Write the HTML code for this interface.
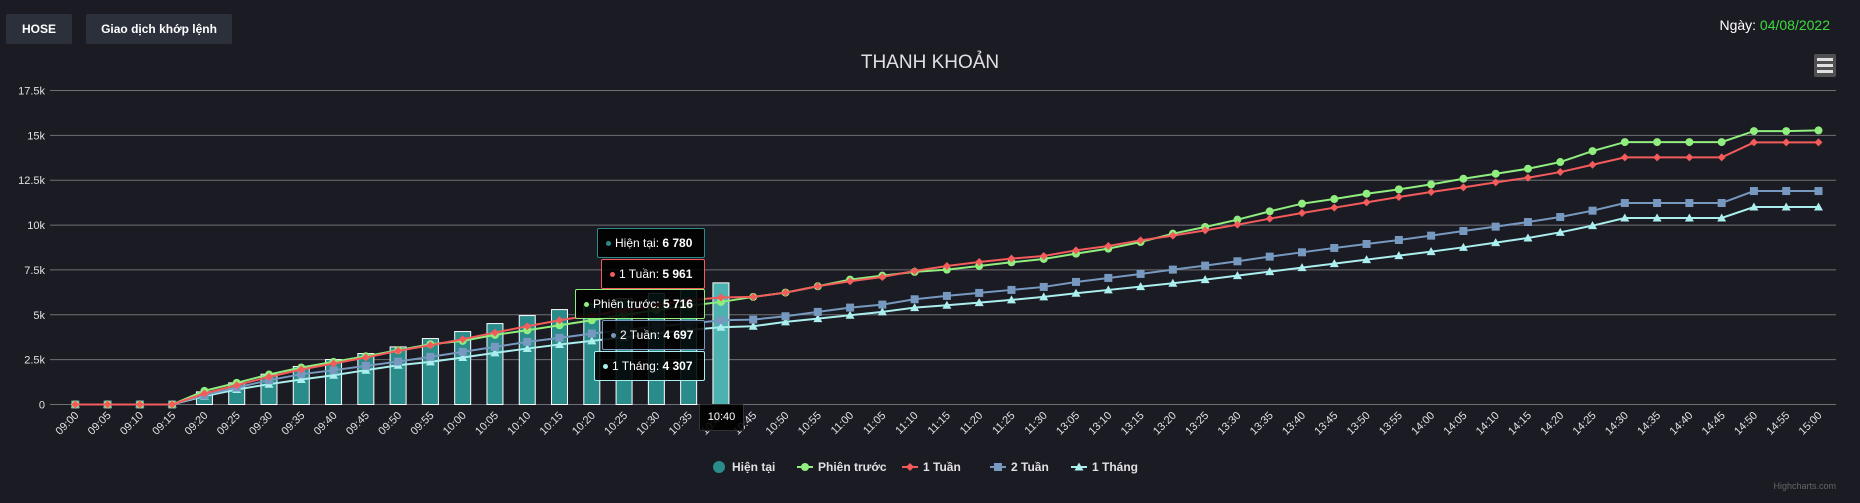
<!DOCTYPE html>
<html><head><meta charset="utf-8">
<style>
body{margin:0;background:#1b1b24;width:1860px;height:503px;overflow:hidden;font-family:"Liberation Sans","Noto Sans CJK SC",sans-serif;}
.btn{position:absolute;top:14px;height:30px;background:#2b303b;color:#fff;font-size:12px;font-weight:bold;line-height:30px;text-align:center;border-radius:2px;}
.tt{position:absolute;background:rgba(0,0,0,0.88);color:#fff;font-size:12px;line-height:28px;padding:0 8px;border:1px solid;border-radius:2px;white-space:nowrap;box-sizing:border-box;height:30px}
.tt b{font-weight:bold}
.dot{display:inline-block;width:5px;height:5px;border-radius:50%;margin-right:4px;vertical-align:middle}
</style></head><body>
<div class="btn" style="left:6px;width:66px">HOSE</div>
<div class="btn" style="left:86px;width:146px">Giao dịch khớp lệnh</div>
<div style="position:absolute;right:30px;top:17px;color:#fff;font-size:14px">Ngày: <span style="color:#3ddc3d">04/08/2022</span></div>
<svg id="chart" width="1860" height="503" style="position:absolute;left:0;top:0"></svg>
<div class="tt" style="left:597px;top:228px;width:108px;border-color:#2a8c8a"><span class="dot" style="background:#2a8c8a"></span>Hiện tại: <b>6 780</b></div>
<div class="tt" style="left:601px;top:259px;width:104px;border-color:#f45b5b"><span class="dot" style="background:#f45b5b"></span>1 Tuần: <b>5 961</b></div>
<div class="tt" style="left:575px;top:289px;width:130px;border-color:#90ee7e"><span class="dot" style="background:#90ee7e"></span>Phiên trước: <b>5 716</b></div>
<div class="tt" style="left:602px;top:320px;width:103px;border-color:#7798bf"><span class="dot" style="background:#7798bf"></span>2 Tuần: <b>4 697</b></div>
<div class="tt" style="left:594px;top:351px;width:111px;border-color:#aaeeee"><span class="dot" style="background:#aaeeee"></span>1 Tháng: <b>4 307</b></div>
<div class="tt" style="left:699px;top:404px;width:45px;height:27px;line-height:25px;border-color:#333;padding:0;text-align:center;font-size:11px">10:40</div>
<script>
const categories=["09:00","09:05","09:10","09:15","09:20","09:25","09:30","09:35","09:40","09:45","09:50","09:55","10:00","10:05","10:10","10:15","10:20","10:25","10:30","10:35","10:40","10:45","10:50","10:55","11:00","11:05","11:10","11:15","11:20","11:25","11:30","13:05","13:10","13:15","13:20","13:25","13:30","13:35","13:40","13:45","13:50","13:55","14:00","14:05","14:10","14:15","14:20","14:25","14:30","14:35","14:40","14:45","14:50","14:55","15:00"];
const current=[0,0,0,0,705,1206,1689,2116,2506,2840,3211,3675,4065,4510,4956,5290,5600,5900,6200,6450,6780];
const prevSession=[0,0,0,0,761,1206,1670,2060,2376,2691,3025,3360,3545,3879,4139,4417,4696,5000,5250,5500,5716,5995,6236,6589,6960,7180,7390,7517,7721,7925,8111,8408,8686,9057,9521,9892,10301,10765,11192,11452,11748,11990,12268,12584,12862,13140,13512,14124,14625,14625,14625,14625,15238,15238,15275];
const week1=[0,0,0,0,612,1076,1540,1949,2283,2617,2988,3304,3638,4009,4362,4696,4974,5250,5530,5810,5961,5995,6236,6589,6867,7108,7443,7721,7944,8129,8278,8593,8835,9150,9410,9707,10022,10356,10672,10969,11266,11563,11841,12101,12380,12640,12955,13363,13772,13772,13772,13772,14607,14607,14607];
const week2=[0,0,0,0,520,946,1355,1689,1912,2153,2394,2654,2932,3211,3489,3712,3953,4150,4350,4500,4697,4733,4918,5160,5401,5568,5865,6051,6218,6385,6552,6830,7053,7276,7517,7740,7981,8241,8482,8723,8946,9169,9410,9670,9911,10171,10449,10802,11229,11229,11229,11229,11897,11897,11897];
const month1=[0,0,0,0,464,835,1132,1392,1633,1912,2190,2376,2617,2877,3118,3341,3545,3750,3950,4150,4307,4362,4603,4788,4974,5160,5401,5531,5679,5828,5995,6199,6385,6570,6756,6960,7183,7406,7628,7851,8074,8296,8519,8760,9020,9280,9596,9967,10394,10394,10394,10394,11006,11006,11006];
const yTicks=[0,2500,5000,7500,10000,12500,15000,17500];
const yTickLabels=["0","2.5k","5k","7.5k","10k","12.5k","15k","17.5k"];
const hoverIndex=20;

const NS="http://www.w3.org/2000/svg";
const svg=document.getElementById("chart");
const L=50,R=1836,T=90.5,B=404.5,YMAX=17500;
const X0=75.3,X1=1818.5;
const step=(X1-X0)/(categories.length-1);
const x=i=>X0+i*step;
const y=v=>B-(v/YMAX)*(B-T);
function mk(tag,attrs,parent){const e=document.createElementNS(NS,tag);for(const k in attrs)e.setAttribute(k,attrs[k]);(parent||svg).appendChild(e);return e;}

const title=mk("text",{x:930,y:68,fill:"#e0e0e3","font-size":19,"text-anchor":"middle"});


title.textContent="THANH KHOẢN";

const menu=mk("g",{});


mk("rect",{x:1814,y:54,width:22,height:23,rx:2,fill:"#505053"},menu);
[59.5,65.5,71.5].forEach(yy=>mk("rect",{x:1817,y:yy-1.5,width:16,height:3,fill:"#e0e0e0"},menu));

yTicks.forEach((t,i)=>{
  const g=mk("line",{x1:L,x2:R,y1:y(t),y2:y(t),stroke:"#707073","stroke-width":1});
  
  
  const tx=mk("text",{x:45,y:y(t)+4,fill:"#e0e0e3","font-size":11,"text-anchor":"end"});
  
  
  tx.textContent=yTickLabels[i];
});

categories.forEach((c,i)=>{
  const tx=mk("text",{x:x(i)+4,y:416,fill:"#e0e0e3","font-size":11,"text-anchor":"end",transform:`rotate(-45 ${x(i)+4} 416)`});
  
  
  tx.textContent=c;
});

current.forEach((v,i)=>{
  const r=mk("rect",{x:x(i)-8,y:y(v),width:16,height:B-y(v),fill:i===hoverIndex?"#4db1b0":"#2a8c8a",stroke:"#ffffff","stroke-width":1});
  
  
});

function series(data,color,marker,name){
  const pts=data.map((v,i)=>x(i)+","+y(v)).join(" ");
  const p=mk("polyline",{points:pts,fill:"none",stroke:color,"stroke-width":2});
  
  
  data.forEach((v,i)=>{
    const cx=x(i),cy=y(v);let m;
    if(marker==="circle")m=mk("circle",{cx,cy,r:4,fill:color});
    else if(marker==="diamond")m=mk("polygon",{points:`${cx},${cy-4} ${cx+4},${cy} ${cx},${cy+4} ${cx-4},${cy}`,fill:color});
    else if(marker==="square")m=mk("rect",{x:cx-4,y:cy-4,width:8,height:8,fill:color});
    else m=mk("polygon",{points:`${cx},${cy-4.5} ${cx+4.5},${cy+3.5} ${cx-4.5},${cy+3.5}`,fill:color});
    
    
  });
}
series(month1,"#aaeeee","triangle","one-month");
series(week2,"#7798bf","square","two-weeks");
series(prevSession,"#90ee7e","circle","previous-session");
series(week1,"#f45b5b","diamond","one-week");

const legend=[["Hiện tại","#2a8c8a","bar",719],["Phiên trước","#90ee7e","circle",805],["1 Tuần","#f45b5b","diamond",910],["2 Tuần","#7798bf","square",998],["1 Tháng","#aaeeee","triangle",1079]];
legend.forEach(l=>{
  const g=mk("g",{});
  
  
  const cx=l[3],cy=467;
  if(l[2]==="bar")mk("circle",{cx,cy,r:6,fill:l[1]},g);
  else{
    mk("line",{x1:cx-8,x2:cx+8,y1:cy,y2:cy,stroke:l[1],"stroke-width":2},g);
    if(l[2]==="circle")mk("circle",{cx,cy,r:4,fill:l[1]},g);
    else if(l[2]==="diamond")mk("polygon",{points:`${cx},${cy-4} ${cx+4},${cy} ${cx},${cy+4} ${cx-4},${cy}`,fill:l[1]},g);
    else if(l[2]==="square")mk("rect",{x:cx-4,y:cy-4,width:8,height:8,fill:l[1]},g);
    else mk("polygon",{points:`${cx},${cy-4.5} ${cx+4.5},${cy+3.5} ${cx-4.5},${cy+3.5}`,fill:l[1]},g);
  }
  const t=mk("text",{x:cx+13,y:cy+4,fill:"#e0e0e3","font-size":12,"font-weight":"bold"},g);
  t.textContent=l[0];
});
const credit=mk("text",{x:1836,y:489,fill:"#666","font-size":9,"text-anchor":"end"});


credit.textContent="Highcharts.com";
</script>
</body></html>
